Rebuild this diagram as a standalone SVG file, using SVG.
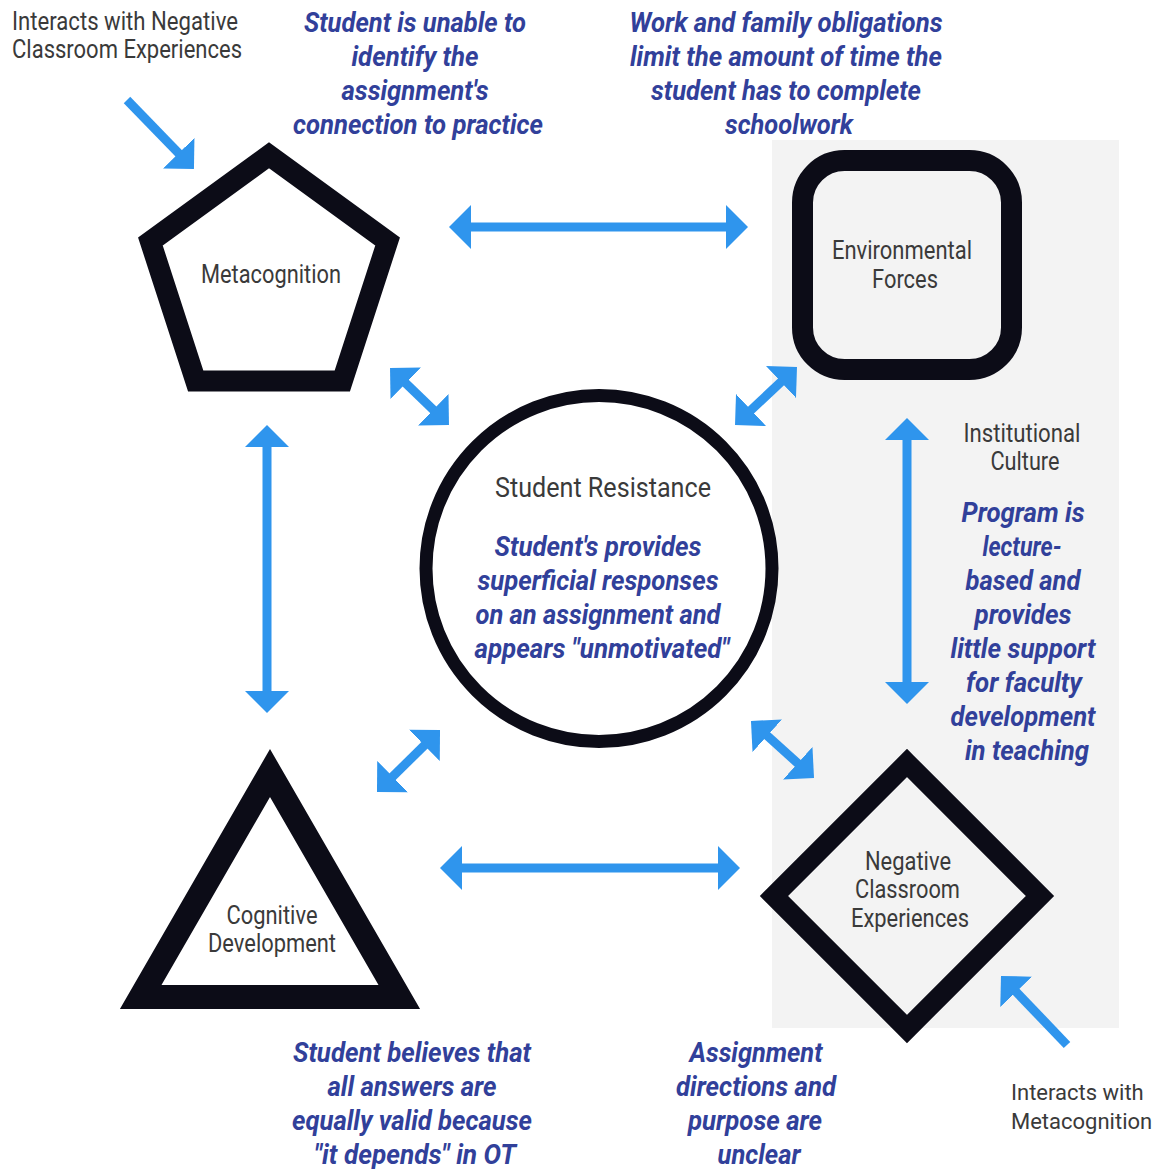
<svg xmlns="http://www.w3.org/2000/svg" width="1155" height="1169" viewBox="0 0 1155 1169">
  <style>
    .shape { stroke: #0c0c17; fill: none; stroke-linejoin: miter; }
    .label { font-family: Roboto, "Liberation Sans", sans-serif; font-size: 25px; fill: #3a3a3a; text-anchor: middle; }
    .note { font-family: Roboto, "Liberation Sans", sans-serif; font-size: 28px; font-weight: bold; font-style: italic; fill: #31409a; text-anchor: middle; }
    .link { stroke: #2f95ed; stroke-width: 9; fill: none; }
  </style>
  <defs>
    <marker id="head" viewBox="0 0 22 44" markerUnits="userSpaceOnUse" markerWidth="22" markerHeight="44" refX="12" refY="22" orient="auto-start-reverse">
      <path d="M0,0 L22,22 L0,44 z" fill="#2f95ed"/>
    </marker>
  </defs>

  <rect width="1155" height="1169" fill="#ffffff"/>
  <!-- shaded band behind the institutional column -->
  <rect x="772" y="140" width="347" height="888" fill="#f3f3f3"/>

  <!-- free-standing notes -->
  <g id="note-left-top">
    <text class="label" x="12" y="29.5" style="text-anchor:start" textLength="226" lengthAdjust="spacingAndGlyphs">Interacts with Negative</text>
    <text class="label" x="12" y="58" style="text-anchor:start" textLength="230" lengthAdjust="spacingAndGlyphs">Classroom Experiences</text>
  </g>
  <g id="note-metacognition">
    <text class="note" x="415" y="32" textLength="222" lengthAdjust="spacingAndGlyphs">Student is unable to</text>
    <text class="note" x="415" y="66" textLength="127" lengthAdjust="spacingAndGlyphs">identify the</text>
    <text class="note" x="415" y="100" textLength="147" lengthAdjust="spacingAndGlyphs">assignment's</text>
    <text class="note" x="418" y="134" textLength="250" lengthAdjust="spacingAndGlyphs">connection to practice</text>
  </g>
  <g id="note-environment">
    <text class="note" x="786" y="32" textLength="313" lengthAdjust="spacingAndGlyphs">Work and family obligations</text>
    <text class="note" x="786" y="66" textLength="312" lengthAdjust="spacingAndGlyphs">limit the amount of time the</text>
    <text class="note" x="786" y="100" textLength="270" lengthAdjust="spacingAndGlyphs">student has to complete</text>
    <text class="note" x="789" y="134" textLength="128" lengthAdjust="spacingAndGlyphs">schoolwork</text>
  </g>
  <g id="note-institution">
    <text class="label" x="1022" y="442" textLength="117" lengthAdjust="spacingAndGlyphs">Institutional</text>
    <text class="label" x="1025" y="470" textLength="69" lengthAdjust="spacingAndGlyphs">Culture</text>
    <text class="note" x="1023" y="522" textLength="123" lengthAdjust="spacingAndGlyphs">Program is</text>
    <text class="note" x="1022" y="556" textLength="79" lengthAdjust="spacingAndGlyphs">lecture-</text>
    <text class="note" x="1023" y="590" textLength="115" lengthAdjust="spacingAndGlyphs">based and</text>
    <text class="note" x="1023" y="624" textLength="97" lengthAdjust="spacingAndGlyphs">provides</text>
    <text class="note" x="1023" y="658" textLength="145" lengthAdjust="spacingAndGlyphs">little support</text>
    <text class="note" x="1024" y="692" textLength="116" lengthAdjust="spacingAndGlyphs">for faculty</text>
    <text class="note" x="1023" y="726" textLength="145" lengthAdjust="spacingAndGlyphs">development</text>
    <text class="note" x="1027" y="760" textLength="124" lengthAdjust="spacingAndGlyphs">in teaching</text>
  </g>
  <g id="note-cognitive">
    <text class="note" x="412" y="1062" textLength="238" lengthAdjust="spacingAndGlyphs">Student believes that</text>
    <text class="note" x="412" y="1096" textLength="169" lengthAdjust="spacingAndGlyphs">all answers are</text>
    <text class="note" x="412" y="1130" textLength="240" lengthAdjust="spacingAndGlyphs">equally valid because</text>
    <text class="note" x="415" y="1164" textLength="202" lengthAdjust="spacingAndGlyphs">"it depends" in OT</text>
  </g>
  <g id="note-classroom">
    <text class="note" x="756" y="1062" textLength="133" lengthAdjust="spacingAndGlyphs">Assignment</text>
    <text class="note" x="756" y="1096" textLength="160" lengthAdjust="spacingAndGlyphs">directions and</text>
    <text class="note" x="755" y="1130" textLength="134" lengthAdjust="spacingAndGlyphs">purpose are</text>
    <text class="note" x="759" y="1164" textLength="83" lengthAdjust="spacingAndGlyphs">unclear</text>
  </g>
  <g id="note-right-bottom">
    <text class="label" x="1011" y="1099.5" style="text-anchor:start;font-size:22px">Interacts with</text>
    <text class="label" x="1011" y="1128.5" style="text-anchor:start;font-size:22px">Metacognition</text>
  </g>

  <!-- connectors -->
  <g id="connectors">
    <line class="link" x1="459" y1="227" x2="738" y2="227" marker-start="url(#head)" marker-end="url(#head)"/>
    <line class="link" x1="450" y1="868" x2="730" y2="868" marker-start="url(#head)" marker-end="url(#head)"/>
    <line class="link" x1="267" y1="435" x2="267" y2="703" marker-start="url(#head)" marker-end="url(#head)"/>
    <line class="link" x1="907" y1="428" x2="907" y2="694" marker-start="url(#head)" marker-end="url(#head)"/>
    <line class="link" x1="397.2" y1="374.9" x2="441.8" y2="418.1" marker-start="url(#head)" marker-end="url(#head)"/>
    <line class="link" x1="742.3" y1="418.2" x2="789.7" y2="373.8" marker-start="url(#head)" marker-end="url(#head)"/>
    <line class="link" x1="384.1" y1="785" x2="432.9" y2="737" marker-start="url(#head)" marker-end="url(#head)"/>
    <line class="link" x1="758.4" y1="727.7" x2="806.6" y2="771.3" marker-start="url(#head)" marker-end="url(#head)"/>
    <line class="link" x1="127" y1="100" x2="187" y2="161.8" marker-end="url(#head)"/>
    <line class="link" x1="1067" y1="1045" x2="1007.9" y2="983.2" marker-end="url(#head)"/>
  </g>

  <!-- nodes -->
  <g id="metacognition">
    <polygon class="shape" stroke-width="21" points="269,155.3 387.6,241.5 342.3,380.9 195.7,380.9 150.4,241.5" style="fill:#ffffff"/>
    <text class="label" x="271" y="283" textLength="140" lengthAdjust="spacingAndGlyphs">Metacognition</text>
  </g>
  <g id="environmental-forces">
    <rect class="shape" stroke-width="21" x="802.5" y="160.5" width="209" height="209" rx="42" ry="42"/>
    <text class="label" x="902" y="259" textLength="140" lengthAdjust="spacingAndGlyphs">Environmental</text>
    <text class="label" x="905" y="288" textLength="66" lengthAdjust="spacingAndGlyphs">Forces</text>
  </g>
  <g id="student-resistance">
    <circle class="shape" stroke-width="13" cx="599" cy="568.5" r="173" style="fill:#ffffff"/>
    <text class="label" x="603" y="497" style="font-size:27px" textLength="216" lengthAdjust="spacingAndGlyphs">Student Resistance</text>
    <text class="note" x="598" y="556" textLength="207" lengthAdjust="spacingAndGlyphs">Student's provides</text>
    <text class="note" x="598" y="590" textLength="241" lengthAdjust="spacingAndGlyphs">superficial responses</text>
    <text class="note" x="598" y="624" textLength="245" lengthAdjust="spacingAndGlyphs">on an assignment and</text>
    <text class="note" x="602" y="658" textLength="255" lengthAdjust="spacingAndGlyphs">appears "unmotivated"</text>
  </g>
  <g id="cognitive-development">
    <polygon class="shape" stroke-width="24" points="270,773 399.3,997 140.7,997" style="fill:#ffffff"/>
    <text class="label" x="272" y="924" textLength="91" lengthAdjust="spacingAndGlyphs">Cognitive</text>
    <text class="label" x="272" y="952" textLength="128" lengthAdjust="spacingAndGlyphs">Development</text>
  </g>
  <g id="negative-classroom-experiences">
    <polygon class="shape" stroke-width="20" points="907,763 1040,896 907,1029 774,896"/>
    <text class="label" x="908" y="870" textLength="86" lengthAdjust="spacingAndGlyphs">Negative</text>
    <text class="label" x="907.5" y="898" textLength="105" lengthAdjust="spacingAndGlyphs">Classroom</text>
    <text class="label" x="910" y="927" textLength="118" lengthAdjust="spacingAndGlyphs">Experiences</text>
  </g>
</svg>
